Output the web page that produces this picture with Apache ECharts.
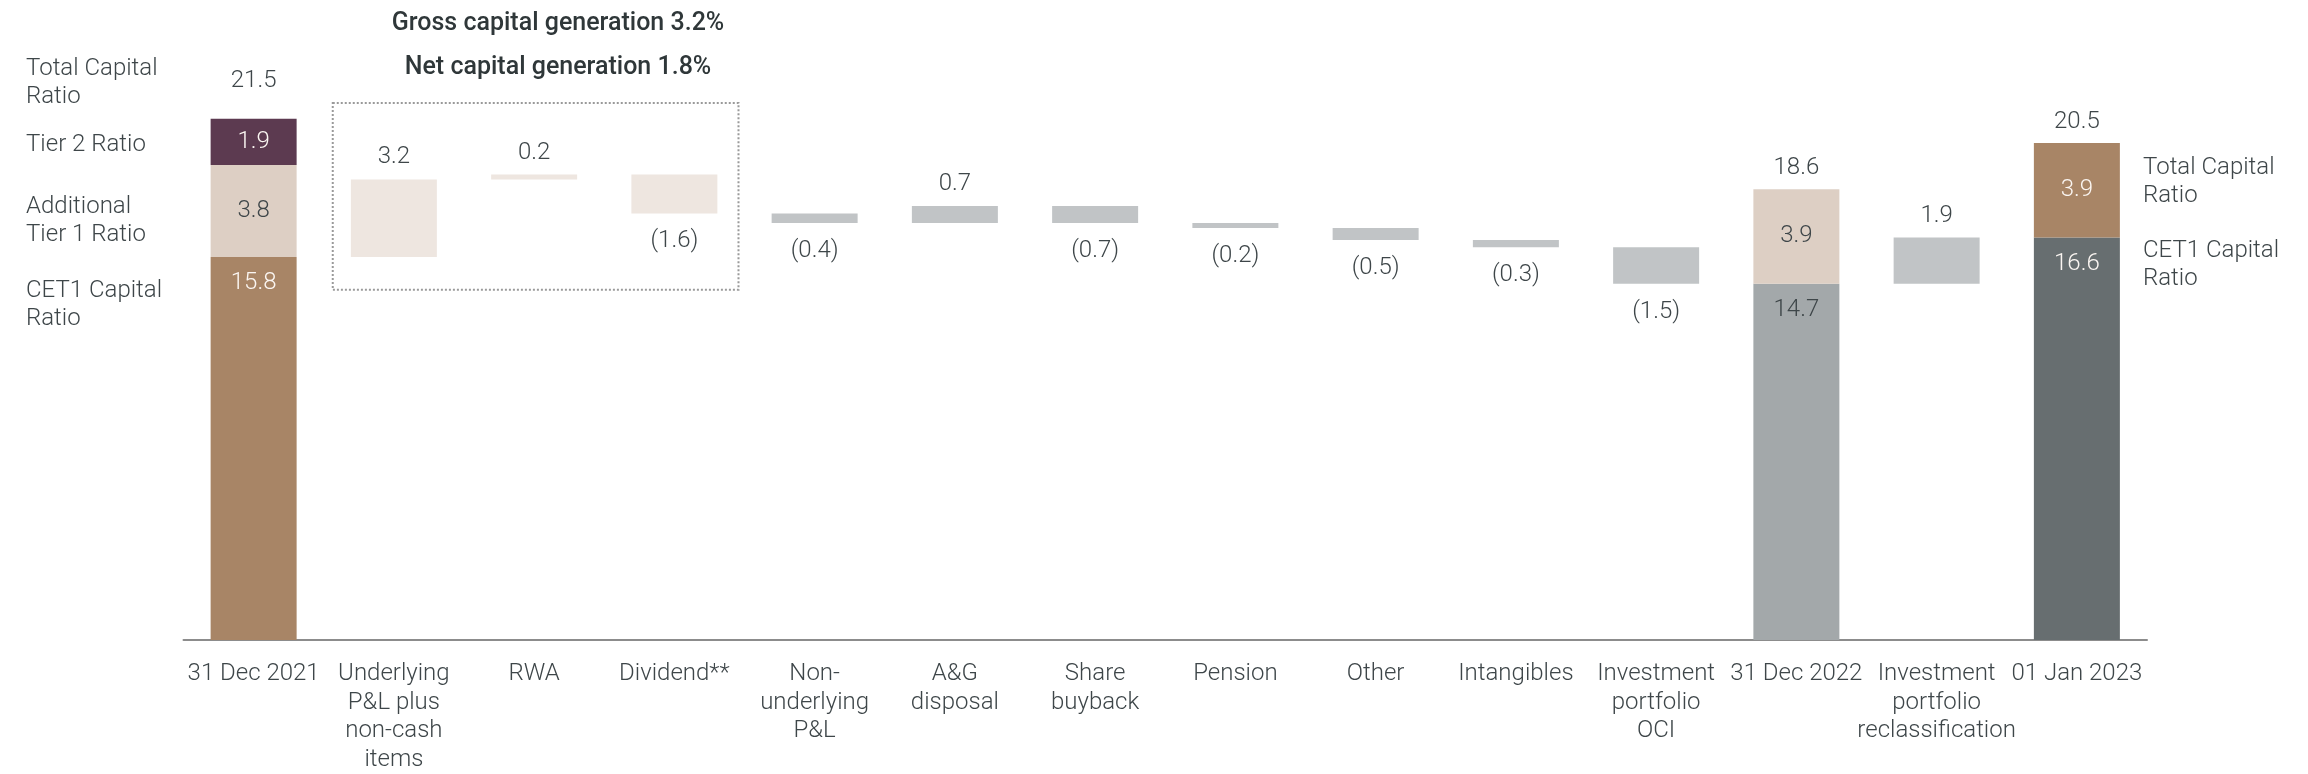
<!DOCTYPE html>
<html>
<head>
<meta charset="utf-8">
<script src="https://cdn.jsdelivr.net/npm/echarts@6/dist/echarts.min.js"></script>
<style>
html,body{margin:0;padding:0;background:#fff;}
#chart{width:2308px;height:774px;}
</style>
</head>
<body>
<div id="chart"></div>
<script>
const categories = ['31 Dec 2021','Underlying\nP&L plus\nnon-cash\nitems','RWA','Dividend**','Non-\nunderlying\nP&L','A&G\ndisposal','Share\nbuyback','Pension','Other','Intangibles','Investment\nportfolio\nOCI','31 Dec 2022','Investment\nportfolio\nreclassification','01 Jan 2023'];
const cet1Ratio       = [15.8, null, null, null, null, null, null, null, null, null, null, 14.7, null, 16.6];
const additionalRatio = [3.8,  null, null, null, null, null, null, null, null, null, null, 3.9,  null, 3.9];
const tier2Ratio      = [1.9,  null, null, null, null, null, null, null, null, null, null, null, null, null];
const totalRatio      = [21.5, null, null, null, null, null, null, null, null, null, null, 18.6, null, 20.5];
const movements       = [null, 3.2, 0.2, -1.6, -0.4, 0.7, -0.7, -0.2, -0.5, -0.3, -1.5, null, 1.9, null];

const TXT = '#3E4649';
const FONT = 'Roboto';
const FS = 24;
const cet1Colors = {0:'#A88566', 11:'#A3A8AA', 13:'#676E70'};
const cet1Label  = {0:'#FBF6F2', 11:TXT, 13:'#FBF6F2'};
const addColors  = {0:'#DDCFC4', 11:'#DDCFC4', 13:'#A88566'};
const addLabel   = {0:TXT, 11:TXT, 13:'#FBF6F2'};

// waterfall bases computed from the movements
const baseData = [], moveData = [];
let level = 0;
categories.forEach((c, i) => {
  if (cet1Ratio[i] != null) {
    level = cet1Ratio[i];
    baseData.push(null); moveData.push(null);
  } else if (movements[i] != null) {
    const m = movements[i];
    const end = Math.round((level + m) * 10) / 10;
    baseData.push(Math.min(level, end));
    moveData.push({
      value: Math.abs(m),
      itemStyle: {color: i <= 3 ? '#EEE6E0' : '#C1C4C6'},
      label: {position: m < 0 ? 'bottom' : 'top', distance: m < 0 ? 16 : 10,
              formatter: m < 0 ? '(' + Math.abs(m).toFixed(1) + ')' : m.toFixed(1)}
    });
    level = end;
  } else { baseData.push(null); moveData.push(null); }
});

const lbl = {fontFamily: FONT, fontWeight: 300, fontSize: FS, color: TXT};

const chart = echarts.init(document.getElementById('chart'), null, {renderer: 'canvas'});
const BW = 86;
const GL = 183.5, GR = 161;
chart.setOption({
  animation: false,
  grid: {left: GL, right: GR, top: 34, bottom: 128},
  xAxis: {
    type: 'category', data: categories,
    axisTick: {show: false},
    axisLine: {lineStyle: {color: '#8C8C8C', width: 2}},
    axisLabel: {interval: 0, margin: 20, lineHeight: 28.5, fontSize: FS, fontFamily: FONT, fontWeight: 300, color: TXT}
  },
  yAxis: {type: 'value', min: 0, max: 25, show: false, splitLine: {show: false}},
  series: [
    {name: 'base', type: 'bar', stack: 'w', barWidth: BW, silent: true,
     itemStyle: {color: 'rgba(0,0,0,0)'}, data: baseData},
    {name: 'CET1', type: 'bar', stack: 'w', barWidth: BW,
     data: cet1Ratio.map((v, i) => v == null ? null : {value: v, itemStyle: {color: cet1Colors[i]},
        label: {color: cet1Label[i]}}),
     label: Object.assign({}, lbl, {show: true, position: 'insideTop', distance: 14})},
    {name: 'AT1', type: 'bar', stack: 'w', barWidth: BW,
     data: additionalRatio.map((v, i) => v == null ? null : {value: v, itemStyle: {color: addColors[i]},
        label: {color: addLabel[i]}}),
     label: Object.assign({}, lbl, {show: true, position: 'inside'})},
    {name: 'T2', type: 'bar', stack: 'w', barWidth: BW,
     data: tier2Ratio.map(v => v == null ? null : {value: v}),
     itemStyle: {color: '#5C3A50'},
     label: Object.assign({}, lbl, {show: true, position: 'inside', color: '#FBF6F2'})},
    {name: 'move', type: 'bar', stack: 'w', barWidth: BW, data: moveData,
     label: Object.assign({}, lbl, {show: true})},
    {name: 'total', type: 'scatter', symbol: 'rect', symbolSize: 1, silent: true,
     itemStyle: {color: 'rgba(0,0,0,0)', opacity: 1},
     data: totalRatio.map((v, i) => v == null ? null : {value: [i, v], label: {distance: i === 0 ? 25 : 9}}),
     label: Object.assign({}, lbl, {show: true, position: 'top', formatter: p => p.value[1].toFixed(1)})}
  ]
});

// annotations
const catW = (2308 - GL - GR) / categories.length;
const bx1 = chart.convertToPixel({xAxisIndex: 0}, 1) - catW / 2 + 9;
const bx2 = chart.convertToPixel({xAxisIndex: 0}, 3) + catW / 2 - 6;
const by1 = chart.convertToPixel({yAxisIndex: 0}, 22.15);
const by2 = chart.convertToPixel({yAxisIndex: 0}, 14.45);
const txt = (t, x, y, extra) => ({type: 'text', x: x, y: y, silent: true,
  style: Object.assign({text: t, fill: TXT, fontFamily: FONT, fontWeight: 300, fontSize: FS, lineHeight: 28,
    textAlign: 'left', textVerticalAlign: 'top'}, extra || {})});
chart.setOption({
  graphic: [
    {type: 'rect', silent: true, shape: {x: bx1, y: by1, width: bx2 - bx1, height: by2 - by1},
     style: {fill: 'none', stroke: '#9A9A9A', lineWidth: 2, lineDash: [2, 2]}},
    txt('Gross capital generation 3.2%', 558, 24, {fontWeight: 500, fontSize: 25, textAlign: 'center', textVerticalAlign: 'middle', fill: '#2F3739'}),
    txt('Net capital generation 1.8%', 558, 68, {fontWeight: 500, fontSize: 25, textAlign: 'center', textVerticalAlign: 'middle', fill: '#2F3739'}),
    txt('Total Capital\nRatio', 26, 55),
    txt('Tier 2 Ratio', 26, 131),
    txt('Additional\nTier 1 Ratio', 26, 193),
    txt('CET1 Capital\nRatio', 26, 277),
    txt('Total Capital\nRatio', 2143, 154),
    txt('CET1 Capital\nRatio', 2143, 237)
  ]
});
</script>
</body>
</html>
